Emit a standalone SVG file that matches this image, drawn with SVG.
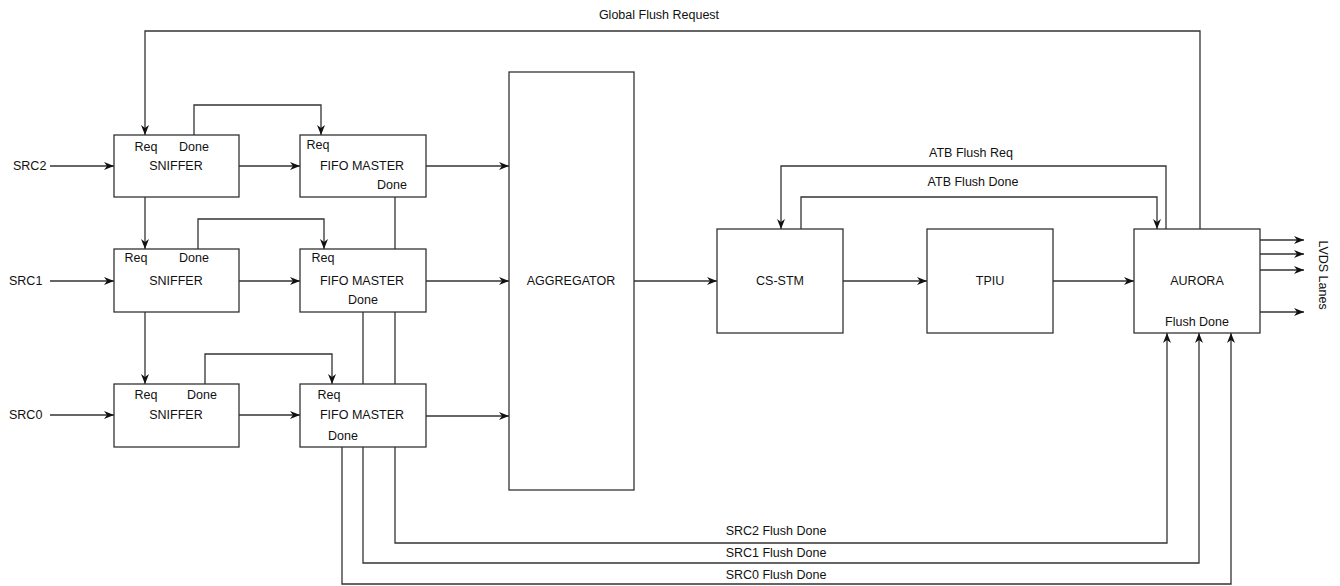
<svg xmlns="http://www.w3.org/2000/svg" width="1340" height="586" viewBox="0 0 1340 586">
<style>
.box{fill:#fff;stroke:#333;stroke-width:1.3}
.ln{fill:none;stroke:#333;stroke-width:1.3}
.arw{marker-end:url(#arr)}
text{font-family:"Liberation Sans",Arial,sans-serif;font-size:12.5px;fill:#111;dominant-baseline:central}
.c{text-anchor:middle}
</style>
<defs>
<marker id="arr" viewBox="0 0 10 8" refX="10" refY="4" markerWidth="10" markerHeight="8" orient="auto" markerUnits="userSpaceOnUse">
<path d="M0,0 L10,4 L0,8 L3,4 z" fill="#111"/>
</marker>
</defs>
<rect width="1340" height="586" fill="#fff"/>
<g id="connectors">
<path class="ln arw" d="M50,166 H114"/>
<path class="ln arw" d="M50,281 H114"/>
<path class="ln arw" d="M50,415 H114"/>
<path class="ln arw" d="M239,166 H300"/>
<path class="ln arw" d="M239,281 H300"/>
<path class="ln arw" d="M239,415 H300"/>
<path class="ln arw" d="M426,166 H509"/>
<path class="ln arw" d="M426,281 H509"/>
<path class="ln arw" d="M426,416 H509"/>
<path class="ln arw" d="M634,281 H717"/>
<path class="ln arw" d="M843,281 H927"/>
<path class="ln arw" d="M1053,281 H1134"/>
<path class="ln arw" d="M1200,229 V31 H145 V135"/>
<path class="ln arw" d="M145,197 V249"/>
<path class="ln arw" d="M145,312 V384"/>
<path class="ln arw" d="M194,135 V105 H321 V135"/>
<path class="ln arw" d="M198,249 V219 H324 V249"/>
<path class="ln arw" d="M205,384 V354 H332 V384"/>
<path class="ln arw" d="M1166,229 V166 H781 V229"/>
<path class="ln arw" d="M801,229 V197 H1157 V229"/>
<path class="ln arw" d="M395,197 V543 H1167 V333"/>
<path class="ln arw" d="M363,312 V563 H1199 V333"/>
<path class="ln arw" d="M342,447 V584 H1231 V333"/>
<path class="ln arw" d="M1260,240 H1304"/>
<path class="ln arw" d="M1260,254 H1304"/>
<path class="ln arw" d="M1260,270 H1304"/>
<path class="ln arw" d="M1260,312 H1304"/>
<text class="c" x="659" y="15">Global Flush Request</text>
<text class="c" x="971" y="153">ATB Flush Req</text>
<text class="c" x="973" y="182">ATB Flush Done</text>
<text class="c" x="776" y="531">SRC2 Flush Done</text>
<text class="c" x="776" y="553">SRC1 Flush Done</text>
<text class="c" x="776" y="575">SRC0 Flush Done</text>
<text x="13" y="166">SRC2</text>
<text x="9" y="281">SRC1</text>
<text x="9" y="415">SRC0</text>
<text class="c" transform="translate(1323,275) rotate(90)" x="0" y="0">LVDS Lanes</text>
</g>
<g id="sniffer2">
<rect class="box" x="114" y="135" width="125" height="62"/>
<text class="c" x="146" y="147">Req</text>
<text class="c" x="194" y="147">Done</text>
<text class="c" x="176" y="166">SNIFFER</text>
</g>
<g id="sniffer1">
<rect class="box" x="114" y="249" width="125" height="63"/>
<text class="c" x="136" y="258">Req</text>
<text class="c" x="194" y="258">Done</text>
<text class="c" x="176" y="281">SNIFFER</text>
</g>
<g id="sniffer0">
<rect class="box" x="114" y="384" width="125" height="63"/>
<text class="c" x="146" y="395">Req</text>
<text class="c" x="202" y="395">Done</text>
<text class="c" x="176" y="415">SNIFFER</text>
</g>
<g id="fifo2">
<rect class="box" x="300" y="135" width="126" height="62"/>
<text class="c" x="318" y="145">Req</text>
<text class="c" x="362" y="166">FIFO MASTER</text>
<text class="c" x="392" y="185">Done</text>
</g>
<g id="fifo1">
<rect class="box" x="300" y="249" width="126" height="63"/>
<text class="c" x="323" y="258">Req</text>
<text class="c" x="362" y="281">FIFO MASTER</text>
<text class="c" x="363" y="300">Done</text>
</g>
<g id="fifo0">
<rect class="box" x="300" y="384" width="126" height="63"/>
<text class="c" x="329" y="395">Req</text>
<text class="c" x="362" y="415">FIFO MASTER</text>
<text class="c" x="343" y="436">Done</text>
</g>
<g id="aggregator">
<rect class="box" x="509" y="72" width="125" height="418"/>
<text class="c" x="571" y="281">AGGREGATOR</text>
</g>
<g id="csstm">
<rect class="box" x="717" y="229" width="126" height="104"/>
<text class="c" x="780" y="281">CS-STM</text>
</g>
<g id="tpiu">
<rect class="box" x="927" y="229" width="126" height="104"/>
<text class="c" x="990" y="281">TPIU</text>
</g>
<g id="aurora">
<rect class="box" x="1134" y="229" width="126" height="104"/>
<text class="c" x="1197" y="281">AURORA</text>
<text class="c" x="1197" y="322">Flush Done</text>
</g>
</svg>
